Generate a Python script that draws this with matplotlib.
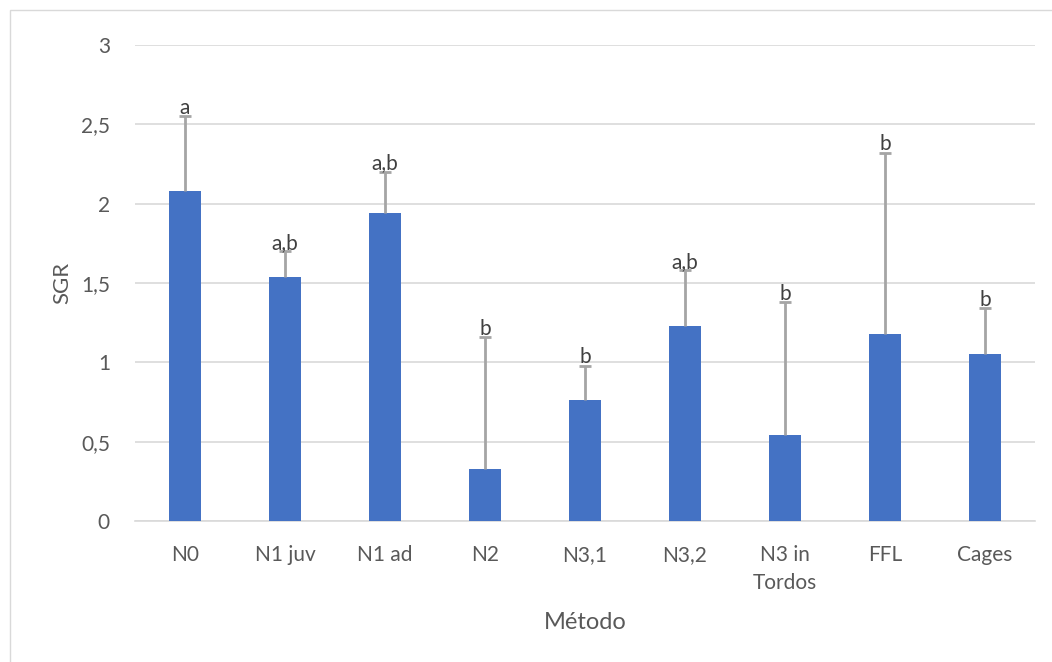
import matplotlib
matplotlib.use("Agg")
import matplotlib.pyplot as plt
import numpy as np

# data
categories = ["N0", "N1 juv", "N1 ad", "N2", "N3,1", "N3,2", "N3 in\nTordos", "FFL", "Cages"]
sgr = [2.08, 1.54, 1.94, 0.33, 0.76, 1.23, 0.54, 1.18, 1.05]
err_upper = [0.47, 0.16, 0.26, 0.83, 0.22, 0.35, 0.84, 1.14, 0.29]
letters = ["a", "a,b", "a,b", "b", "b", "a,b", "b", "b", "b"]

plt.rcParams['font.family'] = ['Lato', 'DejaVu Sans']

fig = plt.figure(figsize=(10.52, 6.62), dpi=100)
ax = fig.add_axes([135 / 1052, 1 - 521 / 662, 900 / 1052, 476 / 662])

x = np.arange(len(categories))
tops = np.array(sgr) + np.array(err_upper)
ax.bar(x, sgr, width=0.32, color="#4472c4", zorder=3)
# upper error bars only
ax.vlines(x, sgr, tops, color="#a5a5a5", linewidth=2, zorder=4)
ax.hlines(tops, x - 0.06, x + 0.06, color="#a5a5a5", linewidth=2, zorder=4)

for xi, t, lab in zip(x, tops, letters):
    ax.text(xi, t - 0.01, lab, ha="center", va="bottom", fontsize=15, color="#404040", zorder=5)

ax.set_xlim(-0.5, len(categories) - 0.5)
ax.set_ylim(0, 3)
ax.set_yticks([0, 0.5, 1, 1.5, 2, 2.5, 3])
ax.set_yticklabels(["0", "0,5", "1", "1,5", "2", "2,5", "3"])
ax.set_xticks(x)
ax.set_xticklabels(categories, linespacing=1.5)
ax.tick_params(axis="both", length=0, labelsize=15, labelcolor="#595959", pad=17)
ax.tick_params(axis="y", pad=18)
ax.yaxis.grid(True, color="#d9d9d9", linewidth=1.2, zorder=0)
for s in ["top", "right", "left"]:
    ax.spines[s].set_visible(False)
ax.spines["bottom"].set_color("#d9d9d9")
ax.spines["bottom"].set_linewidth(1.2)

ax.set_ylabel("SGR", fontsize=16, color="#595959", labelpad=6)
ax.set_xlabel("Método", fontsize=17, color="#595959", labelpad=14)

# outer chart border
fig.patches.append(plt.Rectangle((10 / 1052, -0.01), 1.02, 1 - 10 / 662 + 0.01,
                                 transform=fig.transFigure, fill=False,
                                 edgecolor="#d9d9d9", linewidth=1))

fig.savefig("out.png", dpi=100)
